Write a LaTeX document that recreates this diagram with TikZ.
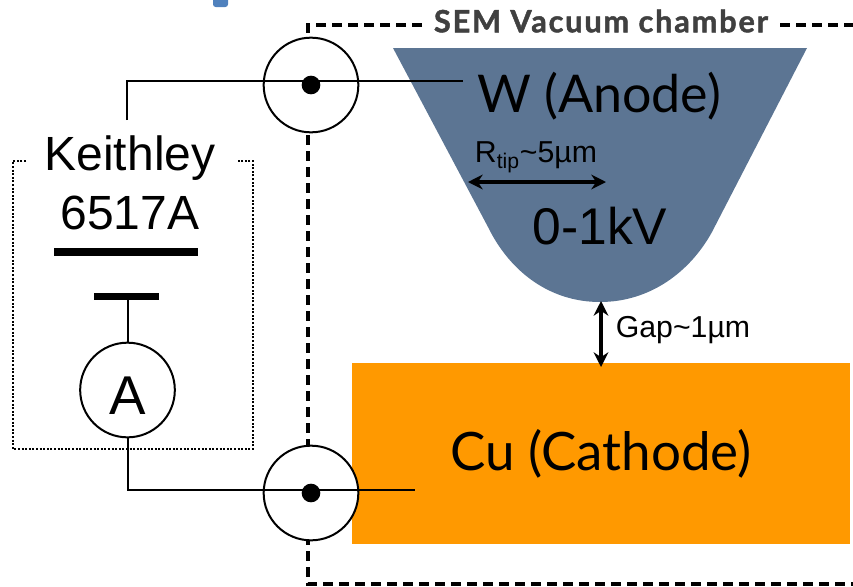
\documentclass[tikz,border=0pt]{standalone}
\usepackage{fontspec}
\setmainfont{Liberation Sans}
\newfontfamily\gillfont{Lato}
\definecolor{tipblue}{RGB}{92,117,147}
\definecolor{copperorange}{RGB}{255,153,0}
\definecolor{titlegray}{RGB}{64,64,64}
\definecolor{markblue}{RGB}{79,129,189}
\newcommand{\fsize}[1]{\fontsize{#1}{#1}\selectfont}
\tikzset{
  chamber/.style={line width=2.3pt,dash pattern=on 7.5pt off 4.5pt},
  wire/.style={line width=1.5pt},
  port/.style={circle,draw,line width=1.5pt,minimum size=71pt,inner sep=0pt},
  pin/.style={circle,fill=black,minimum size=14pt,inner sep=0pt},
  plate/.style={fill=black,inner sep=0pt},
  dbl/.style={line width=2.8pt,{Stealth[length=11pt,width=11pt]}-{Stealth[length=11pt,width=11pt]}},
  label/.style={inner sep=0pt,anchor=center}
}
\usetikzlibrary{arrows.meta}
\begin{document}
\begin{tikzpicture}[x=0.75pt,y=0.75pt,yscale=-1,xscale=1]
\useasboundingbox (0,0) rectangle (853,586);

% Tip and sample
\fill [tipblue] (393,48) -- (807,48) -- (712,232) .. controls (690,272) and (650,302) .. (600,302) .. controls (550,302) and (510,272) .. (488,227) -- cycle;
\node (cathode) [fill=copperorange,minimum width=373.5pt,minimum height=135.75pt,inner sep=0pt,anchor=north west] at (352,363) {};
\fill [markblue,rounded corners=2pt] (213,-6) rectangle (228,7);

% Chamber outline
\coordinate (c1) at (422,25);
\coordinate (c2) at (308,25);
\coordinate (c3) at (308,584);
\coordinate (c4) at (853,584);
\coordinate (c5) at (780,25);
\coordinate (c6) at (853,25);
\draw [chamber] (c1) -- (c2) -- (c3) -- (c4);
\draw [chamber] (c5) -- (c6);

% Meter enclosure
\coordinate (b1) at (26,161);
\coordinate (b2) at (13,161);
\coordinate (b3) at (13,449);
\coordinate (b4) at (253,449);
\coordinate (b5) at (253,161);
\coordinate (b6) at (237,161);
\draw [line width=1.5pt,dash pattern=on 1.5pt off 1.2pt] (b1) -- (b2) -- (b3) -- (b4) -- (b5) -- (b6);

% Feedthroughs
\node (porttop) [port,fill=white] at (311,85) {};
\node (portbot) [port,fill=white] at (311,493) {};

% Plates and meter
\node (platebig) [plate,minimum width=108pt,minimum height=6pt] at (126,252) {};
\node (platesmall) [plate,minimum width=49pt,minimum height=5.5pt] at (126.5,296.5) {};
\node (meter) [port,fill=white] at (127.5,390) {};

% Wires
\coordinate (wa) at (127,81);
\coordinate (wb) at (127,120);
\coordinate (wc) at (463,81);
\coordinate (wd) at (127.5,490);
\coordinate (we) at (415,490);
\draw [wire] (wb) -- (wa) -- (wc);
\draw [wire] (platesmall.south -| meter.north) -- (meter.north);
\draw [wire] (meter.south) -- (wd) -- (we);
\node (pintop) [pin] at (311,85) {};
\node (pinbot) [pin] at (311,493) {};

% Arrows
\coordinate (r1) at (468,182);
\coordinate (r2) at (606,182);
\coordinate (g1) at (601,301);
\coordinate (g2) at (601,367);
\draw [dbl] (r1) -- (r2);
\draw [dbl] (g1) -- (g2);

% Text Node
\node (title) [label,text=titlegray] at (601,21) {\gillfont\bfseries\fsize{23}\addfontfeatures{LetterSpace=6,FakeBold=1.5}SEM Vacuum chamber};
\node (anode) [label] at (599,96) {\gillfont\fsize{39}W (Anode)};
\node (cathodetext) [label] at (601,454) {\gillfont\fsize{39.7}Cu (Cathode)};
\node (keithley) [label] at (130,158) {\fsize{36}Keithley};
\node (model) [label] at (130,213) {\fsize{36}6517A};
\node (meterlabel) [label] at (128,396) {\fsize{41}A};
\node (rtip) [label] at (536,157) {\fsize{22.7}R\textsubscript{tip}\textasciitilde 5µm};
\node (volt) [label] at (600,226) {\fsize{38.7}0-1kV};
\node (gap) [label] at (683,330) {\fsize{22.7}Gap\textasciitilde 1µm};
\end{tikzpicture}
\end{document}
